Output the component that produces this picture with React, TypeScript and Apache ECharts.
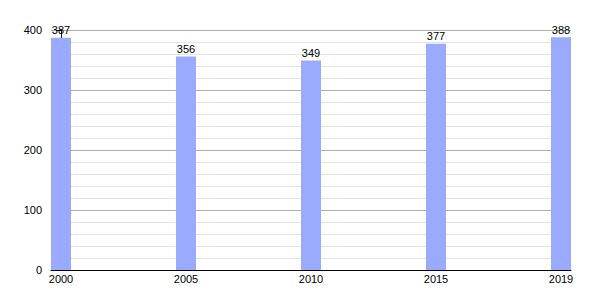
import React, { useEffect, useRef } from "react";
import * as echarts from "echarts";

const years = ["2000", "2005", "2010", "2015", "2019"];
const values = [387, 356, 349, 377, 388];
const yTicks = [0, 100, 200, 300, 400];

export default function App() {
  const ref = useRef<HTMLDivElement>(null);
  useEffect(() => {
    if (!ref.current) return;
    const chart = echarts.init(ref.current, undefined, { renderer: "svg" });
    const font = "Liberation Sans, Arial, sans-serif";
    chart.setOption({
      animation: false,
      grid: { left: 51, right: 29, top: 30, bottom: 30, containLabel: false },
      xAxis: {
        type: "value",
        min: -0.08,
        max: 4.08,
        splitLine: { show: false },
        axisTick: { show: false },
        axisLine: { show: true, lineStyle: { color: "#000", width: 1 } },
        axisLabel: {
          customValues: years.map((_, i) => i),
          formatter: (v: number) => years[Math.round(v)] ?? "",
          color: "#000",
          fontSize: 11,
          fontFamily: font,
          margin: 3,
        },
      },
      yAxis: {
        type: "value",
        min: yTicks[0],
        max: yTicks[yTicks.length - 1],
        interval: 100,
        axisLine: { show: true, lineStyle: { color: "#000", width: 1 } },
        axisTick: { show: true, length: 5, lineStyle: { color: "#000" } },
        minorTick: { show: true, splitNumber: 5, length: 3, lineStyle: { color: "#000" } },
        splitLine: { show: true, lineStyle: { color: "#b0b0b0", width: 1 } },
        minorSplitLine: { show: true, lineStyle: { color: "#e4e4e4", width: 1 } },
        axisLabel: { color: "#000", fontSize: 11, fontFamily: font, margin: 9 },
      },
      series: [
        {
          type: "bar",
          data: values.map((v, i) => [i, v]),
          barWidth: 20,
          itemStyle: { color: "#99aaff" },
          label: {
            show: true,
            position: "top",
            distance: 2,
            color: "#000",
            fontSize: 11,
            fontFamily: font,
          },
        },
      ],
    });
    return () => chart.dispose();
  }, []);
  return (
    <div
      ref={ref}
      style={{ position: "fixed", left: 0, top: 0, width: 600, height: 300, background: "#fff" }}
    />
  );
}
